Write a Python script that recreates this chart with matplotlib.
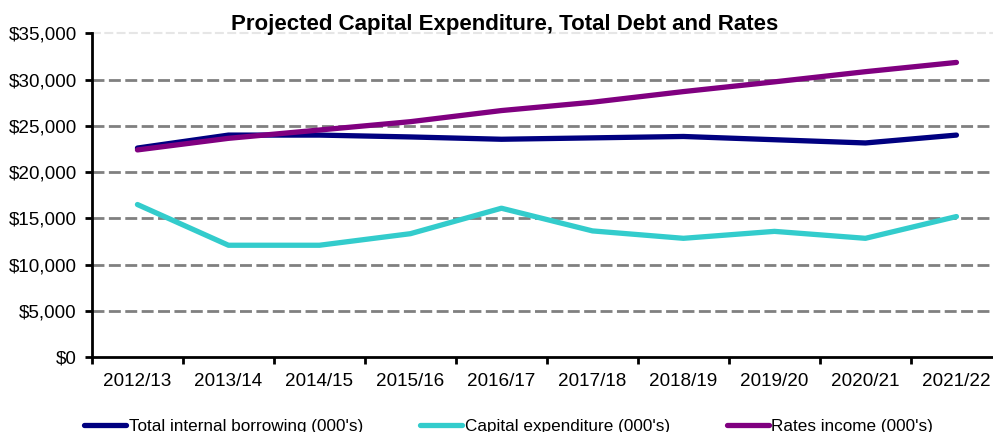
import matplotlib
matplotlib.use("Agg")
import matplotlib.pyplot as plt
import numpy as np
from matplotlib.ticker import FuncFormatter

years = ["2012/13", "2013/14", "2014/15", "2015/16", "2016/17",
         "2017/18", "2018/19", "2019/20", "2020/21", "2021/22"]
borrowing = [22600, 24000, 24000, 23800, 23550, 23700, 23850, 23500, 23150, 24000]
capex = [16500, 12100, 12100, 13350, 16100, 13650, 12850, 13600, 12850, 15200]
rates = [22400, 23650, 24550, 25450, 26650, 27550, 28700, 29750, 30850, 31850]

plt.rcParams['font.family'] = ['Liberation Sans', 'DejaVu Sans']

fig = plt.figure(figsize=(9.93, 4.32), dpi=100)
ax = fig.add_axes([0.0926, 0.173, 0.9164, 0.75])

x = np.arange(len(years))
ax.plot(x, borrowing, color='#000080', lw=3.8, solid_capstyle='round',
        label="Total internal borrowing (000's)")
ax.plot(x, capex, color='#33CCCC', lw=3.8, solid_capstyle='round',
        label="Capital expenditure (000's)")
ax.plot(x, rates, color='#800080', lw=3.8, solid_capstyle='round',
        label="Rates income (000's)")

ax.set_xlim(-0.5, len(years) - 0.5)
ax.set_ylim(0, 35000)

# dashed grid lines, the top one fainter
for v in range(5000, 35000, 5000):
    ax.axhline(v, color='#808080', lw=2, ls=(0, (4.3, 1.6)), zorder=0)
ax.axhline(35000, color='#e6e6e6', lw=1.5, ls=(0, (4.3, 1.6)), zorder=0, clip_on=False)

ax.set_yticks(range(0, 35001, 5000))
ax.yaxis.set_major_formatter(FuncFormatter(lambda v, p: '${:,.0f}'.format(v)))
ax.set_xticks(x)
ax.set_xticklabels(years)
ax.set_xticks(np.arange(-0.5, len(years) + 0.5, 1), minor=True)

ax.tick_params(axis='x', which='major', length=0, pad=11, labelsize=13.6)
ax.tick_params(axis='x', which='minor', length=5, width=2, direction='out')
ax.tick_params(axis='y', length=5, width=2, direction='out', pad=6, labelsize=13.6)

for s in ['top', 'right']:
    ax.spines[s].set_visible(False)
for s in ['left', 'bottom']:
    ax.spines[s].set_linewidth(2)
    ax.spines[s].set_color('black')

fig.text(0.508, 0.944, 'Projected Capital Expenditure, Total Debt and Rates',
         ha='center', va='center', fontsize=16, fontweight='bold')

# legend sits low, partly below the bottom edge
fig.legend(loc='center left', bbox_to_anchor=(0.085, 0.012), ncol=3,
           frameon=False, fontsize=12.3, handlelength=2.45, handletextpad=0.15,
           columnspacing=3.35, borderaxespad=0, borderpad=0)

fig.savefig('out.png', dpi=100)
